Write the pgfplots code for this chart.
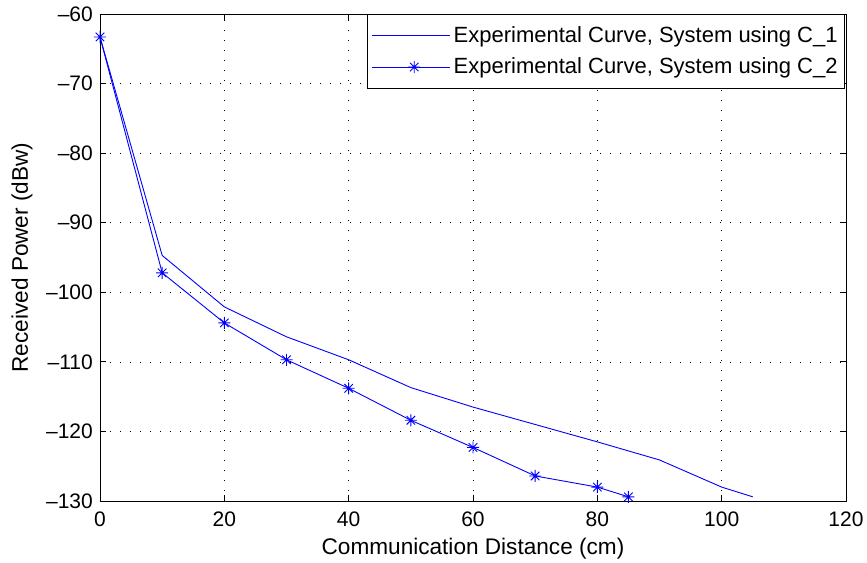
\documentclass[border=0pt]{standalone}
\usepackage{fontspec}
\setmainfont{Liberation Sans}
\usepackage{pgfplots}
\pgfplotsset{compat=1.18}
\pgfdeclareplotmark{mstar}{%
  \pgfpathmoveto{\pgfpoint{-\pgfplotmarksize}{0pt}}\pgfpathlineto{\pgfpoint{\pgfplotmarksize}{0pt}}%
  \pgfpathmoveto{\pgfpoint{0pt}{-\pgfplotmarksize}}\pgfpathlineto{\pgfpoint{0pt}{\pgfplotmarksize}}%
  \pgfpathmoveto{\pgfpoint{-0.707\pgfplotmarksize}{-0.707\pgfplotmarksize}}\pgfpathlineto{\pgfpoint{0.707\pgfplotmarksize}{0.707\pgfplotmarksize}}%
  \pgfpathmoveto{\pgfpoint{-0.707\pgfplotmarksize}{0.707\pgfplotmarksize}}\pgfpathlineto{\pgfpoint{0.707\pgfplotmarksize}{-0.707\pgfplotmarksize}}%
  \pgfusepathqstroke}
\begin{document}
\fontsize{21bp}{25bp}\selectfont
\begin{tikzpicture}
\useasboundingbox (-100bp,-62bp) rectangle (767bp,501bp);
\begin{axis}[
  scale only axis, width=746bp, height=487bp,
  xmin=0, xmax=120, ymin=-130, ymax=-60,
  xtick={0,20,...,120}, ytick={-130,-120,...,-60},
  yticklabels={–130,–120,–110,–100,–90,–80,–70,–60},
  /pgf/number format/assume math mode=true,
  xticklabel style={yshift=-4bp},
  grid=major,
  major grid style={black, line width=0.7bp, dash pattern=on 1bp off 9bp},
  tick align=inside, major tick length=6bp,
  tick style={black, line width=0.8bp},
  axis line style={black, line width=0.8bp},
  xlabel={Communication Distance (cm)},
  ylabel={Received Power (dBw)},
  xlabel style={at={(axis description cs:0.5,-0.0986)}, anchor=center, font=\fontsize{22.6bp}{26bp}\selectfont},
  ylabel style={at={(axis description cs:-0.1046,0.5)}, anchor=center, font=\fontsize{22.6bp}{26bp}\selectfont},
  legend cell align=left,
  legend style={at={(axis description cs:1,1)}, anchor=north east, xshift=-1bp,
    draw=black, line width=0.8bp, fill=white, inner xsep=3.5bp, inner ysep=10bp, row sep=8bp,
    font=\fontsize{22bp}{26bp}\selectfont,
    nodes={inner xsep=3.5bp, inner ysep=2bp}},
  legend image code/.code={%
    \path (0bp,0bp) -- (78bp,0bp);
    \draw[mark repeat=2, mark phase=2] plot coordinates {(8bp,0bp) (42.5bp,0bp) (77bp,0bp)};},
]
\addplot[blue, line width=0.9bp] coordinates {
  (0,-63.3) (10,-94.7) (20,-102.1) (30,-106.4) (40,-109.7) (50,-113.7)
  (60,-116.5) (70,-119.0) (80,-121.5) (90,-124.1) (100,-128.0) (105,-129.4)};
\addlegendentry{Experimental Curve, System using C\_1}
\addplot[blue, line width=0.9bp, mark=mstar, mark size=6bp, mark options={line width=0.9bp}] coordinates {
  (0,-63.3) (10,-97.2) (20,-104.4) (30,-109.7) (40,-113.8) (50,-118.4)
  (60,-122.3) (70,-126.4) (80,-128.0) (85,-129.4)};
\addlegendentry{Experimental Curve, System using C\_2}
\end{axis}
\end{tikzpicture}
\end{document}
